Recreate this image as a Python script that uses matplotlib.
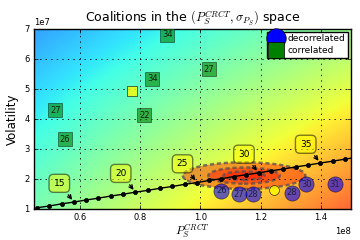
import numpy as np
import matplotlib
matplotlib.use('Agg')
import matplotlib.pyplot as plt
from matplotlib.patches import Ellipse
from matplotlib.lines import Line2D

plt.style.use('classic')

# frontier curve (one point per coalition size n)
curve_n = [12, 13, 14, 15, 16, 17, 18, 19, 20, 21, 22, 23, 24, 25, 26,
           27, 28, 29, 30, 31, 32, 33, 34, 35, 36, 37, 38]
curve_x = [0.457, 0.498, 0.539, 0.580, 0.621, 0.661, 0.702, 0.743, 0.784,
           0.825, 0.866, 0.907, 0.948, 0.989, 1.030, 1.070, 1.111, 1.152,
           1.193, 1.234, 1.275, 1.316, 1.357, 1.398, 1.439, 1.480, 1.520]
curve_y = [1.05, 1.11, 1.18, 1.24, 1.31, 1.37, 1.44, 1.50, 1.57, 1.63, 1.70,
           1.76, 1.83, 1.89, 1.96, 2.02, 2.09, 2.15, 2.21, 2.28, 2.34, 2.41,
           2.47, 2.54, 2.60, 2.67, 2.73]
labelled_n = [15, 20, 25, 30, 35]

# decorrelated coalitions
dec_x = [1.070, 1.128, 1.173, 1.303, 1.351, 1.446]
dec_y = [1.61, 1.50, 1.50, 1.55, 1.83, 1.83]
dec_lbl = ['26', '27', '28', '28', '30', '31']
dec_mean = (1.244, 1.63)

# correlated coalitions
cor_x = [0.890, 0.840, 0.518, 0.814, 1.028, 0.551]
cor_y = [6.81, 5.34, 4.30, 4.13, 5.66, 3.33]
cor_lbl = ['34', '34', '27', '22', '27', '26']
cor_mean = (0.772, 4.94)

# confidence ellipses around the frontier
ell_center = (1.145, 2.12)
ell_w = [0.407, 0.237, 0.137]
ell_h = [0.887, 0.54, 0.28]

xe, ye = 1e8, 1e7
xmin, xmax, ymin, ymax = 0.447, 1.5, 1.0, 7.0

fig = plt.figure(figsize=(3.6, 2.4), dpi=100)
fig.patch.set_facecolor('white')
ax = fig.add_axes([0.094, 0.128, 0.881, 0.751])

# background gradient (colormap level at the four corners)
c_bl, c_br, c_tl, c_tr = 0.46, 0.84, 0.26, 0.51
gx, gy = np.meshgrid(np.linspace(0, 1, 200), np.linspace(0, 1, 200))
bg = (c_bl * (1 - gx) * (1 - gy) + c_br * gx * (1 - gy)
      + c_tl * (1 - gx) * gy + c_tr * gx * gy)
ax.imshow(bg, extent=[xmin * xe, xmax * xe, ymin * ye, ymax * ye], origin='lower',
          cmap='jet', vmin=0, vmax=1, alpha=0.8, aspect='auto', zorder=0)

for w, h in zip(ell_w, ell_h):
    ax.add_patch(Ellipse((ell_center[0] * xe, ell_center[1] * ye), w * xe, h * ye,
                         facecolor=(1, 0, 0, 0.4), edgecolor=(0.35, 0.3, 0.3, 0.75),
                         linestyle=(0, (3, 2)), linewidth=1.8, zorder=2))

ax.plot(np.array(curve_x) * xe, np.array(curve_y) * ye, 'k-', marker='o',
        markersize=3, markeredgecolor='k', linewidth=1, zorder=3)

for n in labelled_n:
    i = curve_n.index(n)
    ax.annotate(str(n), xy=(curve_x[i] * xe, curve_y[i] * ye), xytext=(-10.5, 13.5),
                textcoords='offset points', ha='center', va='center', fontsize=6.5,
                bbox=dict(boxstyle='round,pad=0.5', fc='yellow', alpha=0.5),
                arrowprops=dict(arrowstyle='->', connectionstyle='arc3,rad=0'),
                zorder=5)

ax.scatter(np.array(dec_x) * xe, np.array(dec_y) * ye, s=120, c='blue', alpha=0.6,
           edgecolors='k', linewidths=0.5, zorder=4)
ax.scatter([dec_mean[0] * xe], [dec_mean[1] * ye], s=50, c='yellow', alpha=0.8,
           edgecolors='k', linewidths=0.5, zorder=4)
for x, y, t in zip(dec_x, dec_y, dec_lbl):
    ax.text(x * xe, y * ye, t, fontsize=6, ha='center', va='center', color='#202040', zorder=6)

ax.scatter(np.array(cor_x) * xe, np.array(cor_y) * ye, s=90, c='green', marker='s',
           alpha=0.6, edgecolors='k', linewidths=0.5, zorder=4)
ax.scatter([cor_mean[0] * xe], [cor_mean[1] * ye], s=55, c='yellow', marker='s', alpha=0.8,
           edgecolors='k', linewidths=0.5, zorder=4)
for x, y, t in zip(cor_x, cor_y, cor_lbl):
    ax.text(x * xe, y * ye, t, fontsize=6, ha='center', va='center', color='#102010', zorder=6)

ax.set_xlim(xmin * xe, xmax * xe)
ax.set_ylim(ymin * ye, ymax * ye)
ax.set_xticks(np.array([0.6, 0.8, 1.0, 1.2, 1.4]) * xe)
ax.set_yticks(np.arange(1, 8) * ye)
ax.grid(True, color='k', linestyle=':', linewidth=0.6)
ax.set_axisbelow(False)
ax.tick_params(labelsize=6, length=3, pad=3)
ax.xaxis.get_offset_text().set_fontsize(6)
ax.yaxis.get_offset_text().set_fontsize(6)

ax.set_title(r'Coalitions in the $(P_S^{CRCT},\sigma_{P_S})$ space', fontsize=9)
ax.set_xlabel(r'$P_S^{CRCT}$', fontsize=8.5, labelpad=0)
ax.set_ylabel('Volatility', fontsize=8.5, labelpad=4)

handles = [Line2D([], [], marker='o', color='blue', linestyle='none', markersize=14,
                  markeredgecolor='k'),
           Line2D([], [], marker='s', color='green', linestyle='none', markersize=12,
                  markeredgecolor='k')]
ax.legend(handles, ['decorrelated', 'correlated'], loc='upper right', fontsize=6.5,
          numpoints=1, handlelength=1.4, borderpad=0.3, labelspacing=0.3,
          handletextpad=0.6, borderaxespad=0.3, fancybox=False)

fig.savefig('out.png', dpi=100)
